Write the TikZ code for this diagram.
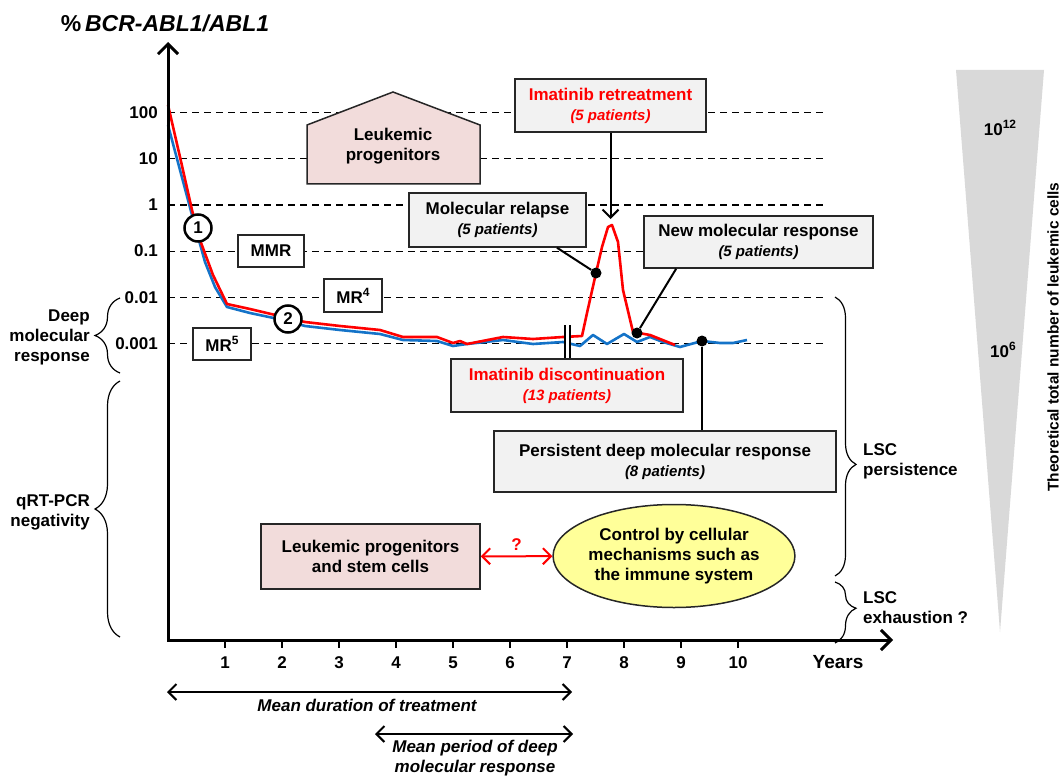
\documentclass[tikz,border=0pt]{standalone}
\usepackage{fontspec}
\setmainfont{Liberation Sans}
\usepackage{xcolor}
\usepackage{tikz}
\usetikzlibrary{arrows.meta,decorations.pathreplacing,shapes.geometric,calc,positioning}

\definecolor{boxgray}{RGB}{242,242,242}
\definecolor{pinkfill}{RGB}{242,220,219}
\definecolor{yellowfill}{RGB}{255,255,153}
\definecolor{conegray}{RGB}{217,217,217}
\definecolor{curveblue}{RGB}{20,115,200}
\definecolor{curvered}{RGB}{255,0,0}

\newcommand{\pat}[1]{{\itshape\fontsize{15}{20}\selectfont #1}}
\newcommand{\sups}[1]{\raisebox{0.42em}{\fontsize{12}{12}\selectfont #1}}

\tikzset{
  lbl/.style={font=\bfseries\fontsize{17}{20}\selectfont, inner sep=0pt, align=center},
  infobox/.style={lbl, draw=black!85, line width=1.5pt, fill=boxgray},
  pinkbox/.style={lbl, draw=black!85, line width=1.5pt, fill=pinkfill},
  levelbox/.style={lbl, draw=black!85, line width=1.5pt, fill=white},
  numcirc/.style={lbl, circle, draw, line width=2.5pt, fill=white, minimum size=27pt},
  dot/.style={circle, fill=black, minimum size=11pt, inner sep=0pt},
  gridline/.style={dashed, dash pattern=on 7pt off 5pt, line width=1.2pt},
  curve/.style={line width=2.6pt, line join=round},
  lead/.style={line width=2pt},
  barb/.tip={Straight Barb[length=8pt,width=16pt]},
  axisbarb/.tip={Straight Barb[length=10pt,width=20pt]},
  lbrace/.style={decorate, decoration={brace, amplitude=#1}, line width=1.2pt},
}

\begin{document}
\begin{tikzpicture}[x=1pt, y=-1pt]
    \useasboundingbox (0,0) rectangle (1062,778);

    % cone of leukemic cells
    \fill[conegray] (956,70) -- (1044,70) -- (1000,632) -- cycle;
    \node[lbl] at (1000,128) {10\sups{12}};
    \node[lbl] at (1003,350) {10\sups{6}};
    \node[lbl, font=\bfseries\fontsize{15.5}{20}\selectfont, rotate=90] at (1053,337) {Theoretical total number of leukemic cells};

    % levels
    \draw[gridline] (168,112.5) -- (827,112.5);
    \draw[gridline] (168,158.7) -- (827,158.7);
    \draw[gridline] (168,204.9) -- (827,204.9);
    \draw[gridline] (168,251.1) -- (827,251.1);
    \draw[gridline] (168,297.3) -- (827,297.3);
    \draw[gridline] (168,343.5) -- (827,343.5);
    \node[lbl, anchor=east] at (158,112.5) {100};
    \node[lbl, anchor=east] at (158,158.7) {10};
    \node[lbl, anchor=east] at (158,204.9) {1};
    \node[lbl, anchor=east] at (158,251.1) {0.1};
    \node[lbl, anchor=east] at (158,297.3) {0.01};
    \node[lbl, anchor=east] at (158,343.5) {0.001};

    % braces left and right
    \draw[lbrace=25pt] (120,373) -- (120,298);
    \draw[lbrace=25pt] (120,637) -- (120,381);
    \node[lbl, align=right, anchor=east] at (90,337) {Deep\\molecular\\response};
    \node[lbl, align=right, anchor=east] at (90,512) {qRT-PCR\\negativity};
    \draw[decorate, decoration={brace, amplitude=21pt, aspect=0.6}, line width=1.2pt] (835,297) -- (835,576);
    \draw[decorate, decoration={brace, amplitude=21pt, aspect=0.43}, line width=1.2pt] (835,582) -- (835,643);
    \node[lbl, align=left, anchor=west] at (863,461) {LSC\\persistence};
    \node[lbl, align=left, anchor=west] at (863,608) {LSC\\exhaustion ?};

    % leukemic progenitors
    \filldraw[fill=pinkfill, draw=black!85, line width=1.5pt] (307,125) -- (393,92) -- (480,125) -- (480,184) -- (307,184) -- cycle;
    \node[lbl] (progen) at (393,146) {Leukemic\\progenitors};

    % response levels
    \node[levelbox, minimum width=66pt, minimum height=32pt] (mmr) at (271,251) {MMR};
    \node[levelbox, minimum width=58pt, minimum height=33pt] (mrfour) at (353,295.5) {MR\sups{4}};
    \node[levelbox, minimum width=58pt, minimum height=32pt] (mrfive) at (222,344) {MR\sups{5}};

    % events
    \node[infobox, minimum width=191pt, minimum height=53pt] (retreat) at (610.5,105.5)
        {\color{curvered}Imatinib retreatment\\\color{curvered}\pat{(5 patients)}};
    \node[infobox, minimum width=177pt, minimum height=54pt] (relapse) at (497.5,220)
        {Molecular relapse\\\pat{(5 patients)}};
    \node[infobox, minimum width=229pt, minimum height=52pt] (newresp) at (758.5,242)
        {New molecular response\\\pat{(5 patients)}};
    \node[infobox, minimum width=232pt, minimum height=53pt] (discont) at (567,385.5)
        {\color{curvered}Imatinib discontinuation\\\color{curvered}\pat{(13 patients)}};
    \node[infobox, minimum width=342pt, minimum height=61pt] (persist) at (665,461.5)
        {Persistent deep molecular response\\\pat{(8 patients)}};

    % curves
    \draw[curve, curveblue] (168,125) -- (180,170) -- (192,215) -- (205,262) -- (215,287) -- (227,307)
        -- (250,313) -- (288,321) -- (305,326) -- (340,330) -- (380,334) -- (403,340) -- (437,341)
        -- (453,346) -- (467,344) -- (503,340) -- (533,344) -- (563,342) -- (580,346) -- (593,335)
        -- (607,344) -- (624,334) -- (637,342) -- (650,337) -- (663,342) -- (680,347) -- (702,341)
        -- (720,343) -- (733,343) -- (747,340);
    \draw[curve, curvered] (168,105) -- (180,157) -- (192,210) -- (200,240) -- (213,275) -- (227,304)
        -- (250,309) -- (288,318) -- (305,322) -- (340,326) -- (380,330) -- (403,337) -- (437,337)
        -- (453,343) -- (460,341) -- (467,344) -- (503,337) -- (533,339) -- (563,337) -- (582,336)
        -- (587,313) -- (596,273) -- (602,247) -- (608,227) -- (612,225) -- (618,242) -- (623,290)
        -- (633,332) -- (650,335) -- (675,345);

    % break at discontinuation
    \coordinate (brkl) at (565,325);
    \coordinate (brkr) at (570,325);
    \fill[white] (brkl) rectangle (brkr |- discont.north);
    \draw[line width=1.3pt] (brkl) -- (brkl |- discont.north);
    \draw[line width=1.3pt] (brkr) -- (brkr |- discont.north);

    % leads to the curve
    \node[dot] (rdot) at (596,273) {};
    \node[dot] (ndot) at (637,333) {};
    \node[dot] (pdot) at (702,341) {};
    \coordinate (peak) at (610.5,219);
    \draw[lead] (relapse.335) -- (rdot);
    \draw[lead] (newresp.198) -- (ndot);
    \draw[lead] (pdot) -- (pdot |- persist.north);
    \draw[lead, -barb] (retreat.south) -- (peak);

    \node[numcirc] (one) at (198,228) {1};
    \node[numcirc] (two) at (288,319) {2};

    % control of the residual disease
    \node[pinkbox, minimum width=219pt, minimum height=65pt] (progstem) at (370.5,556.5)
        {Leukemic progenitors\\and stem cells};
    \node[lbl, ellipse, draw=black!85, line width=1.5pt, fill=yellowfill, minimum width=240pt, minimum height=103pt] (control) at (674,556)
        {Control by cellular\\mechanisms such as\\the immune system};
    \draw[lead, curvered, barb-barb] (progstem) -- (control)
        node[midway, above=5pt, lbl, text=curvered] {?};

    % axes
    \coordinate (ytop) at (168,42);
    \coordinate (orig) at (168,640);
    \coordinate (xend) at (893,640);
    \draw[line width=3pt, axisbarb-axisbarb] (ytop) -- (orig) -- (xend);
    \node[lbl, font=\bfseries\fontsize{23}{26}\selectfont] at (165,23) {\%\,\itshape BCR-ABL1/ABL1};
    \node[lbl, font=\bfseries\fontsize{19}{22}\selectfont] at (838,662) {Years};
    \draw[line width=1.5pt] (225,640) -- (225,648);
    \draw[line width=1.5pt] (282,640) -- (282,648);
    \draw[line width=1.5pt] (339,640) -- (339,648);
    \draw[line width=1.5pt] (396,640) -- (396,648);
    \draw[line width=1.5pt] (453,640) -- (453,648);
    \draw[line width=1.5pt] (510,640) -- (510,648);
    \draw[line width=1.5pt] (567,640) -- (567,648);
    \draw[line width=1.5pt] (624,640) -- (624,648);
    \draw[line width=1.5pt] (681,640) -- (681,648);
    \draw[line width=1.5pt] (738,640) -- (738,648);
    \node[lbl] at (225,663) {1};
    \node[lbl] at (282,663) {2};
    \node[lbl] at (339,663) {3};
    \node[lbl] at (396,663) {4};
    \node[lbl] at (453,663) {5};
    \node[lbl] at (510,663) {6};
    \node[lbl] at (567,663) {7};
    \node[lbl] at (624,663) {8};
    \node[lbl] at (681,663) {9};
    \node[lbl] at (738,663) {10};

    % periods
    \coordinate (tstart) at (167,692);
    \coordinate (tend) at (572,692);
    \coordinate (dstart) at (375,734);
    \coordinate (dend) at (573,734);
    \draw[lead, barb-barb] (tstart) -- (tend);
    \draw[lead, barb-barb] (dstart) -- (dend);
    \node[lbl, font=\bfseries\itshape\fontsize{17}{20}\selectfont] at (367,705) {Mean duration of treatment};
    \node[lbl, font=\bfseries\itshape\fontsize{17}{20}\selectfont] at (475,758) {Mean period of deep\\molecular response};
\end{tikzpicture}
\end{document}
